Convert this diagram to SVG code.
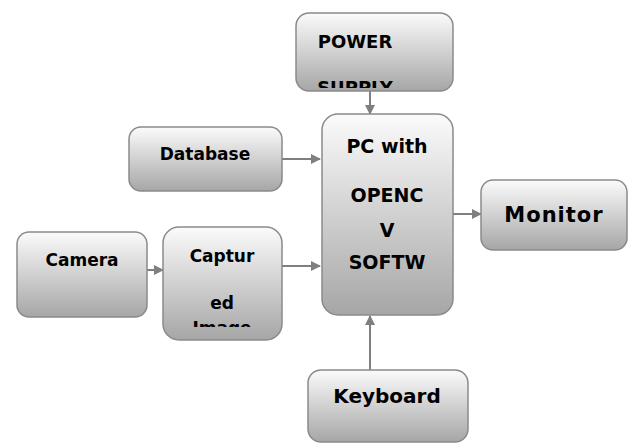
<svg xmlns="http://www.w3.org/2000/svg" width="629" height="445" viewBox="0 0 629 445">
<style>
.box{fill:url(#g);stroke:#8a8a8a;stroke-width:1.5}
.t{font-family:"DejaVu Sans",sans-serif;font-weight:bold;fill:#000;text-anchor:middle}
.c{stroke:#7f7f7f;stroke-width:2;fill:none;marker-end:url(#ah)}
</style>
<defs>
<linearGradient id="g" x1="0" y1="0" x2="0" y2="1">
<stop offset="0" stop-color="#fbfbfb"/>
<stop offset="1" stop-color="#a6a6a6"/>
</linearGradient>
<marker id="ah" viewBox="0 0 10 10" refX="9" refY="5" markerWidth="5" markerHeight="5" orient="auto" markerUnits="strokeWidth">
<path d="M0,0 L10,5 L0,10 z" fill="#7f7f7f"/>
</marker>
<clipPath id="cp1"><rect x="296" y="13" width="157" height="75"/></clipPath>
<clipPath id="cp2"><rect x="163" y="227" width="119" height="100"/></clipPath>
</defs>
<rect width="629" height="445" fill="#fff"/>
<g id="connectors">
<path class="c" d="M370,91 V114"/>
<path class="c" d="M282,159 H320"/>
<path class="c" d="M147,270 H163"/>
<path class="c" d="M282,266 H320"/>
<path class="c" d="M453,214 H481"/>
<path class="c" d="M370,370 V316"/>
</g>
<g id="power">
<rect class="box" x="296" y="13" width="157" height="78" rx="13"/>
<g clip-path="url(#cp1)">
<text class="t" x="355" y="48" font-size="18">POWER</text>
<text class="t" x="355" y="94" font-size="18">SUPPLY</text>
</g>
</g>
<g id="database">
<rect class="box" x="129" y="127" width="153" height="64" rx="12"/>
<text class="t" x="205" y="160" font-size="17">Database</text>
</g>
<g id="pc">
<rect class="box" x="322" y="114" width="131" height="201" rx="16"/>
<text class="t" x="387" y="153" font-size="19">PC with</text>
<text class="t" x="387" y="202" font-size="19">OPENC</text>
<text class="t" x="387" y="237" font-size="19">V</text>
<text class="t" x="387" y="269" font-size="19">SOFTW</text>
</g>
<g id="camera">
<rect class="box" x="17" y="232" width="130" height="85" rx="12"/>
<text class="t" x="82" y="266" font-size="17">Camera</text>
</g>
<g id="captured">
<rect class="box" x="163" y="227" width="119" height="113" rx="16"/>
<g clip-path="url(#cp2)">
<text class="t" x="222" y="262" font-size="17">Captur</text>
<text class="t" x="222" y="309" font-size="17">ed</text>
<text class="t" x="222" y="334" font-size="17">Image</text>
</g>
</g>
<g id="monitor">
<rect class="box" x="481" y="180" width="146" height="70" rx="12"/>
<text class="t" x="554" y="222" font-size="21" letter-spacing="1">Monitor</text>
</g>
<g id="keyboard">
<rect class="box" x="308" y="370" width="160" height="72" rx="13"/>
<text class="t" x="387" y="403" font-size="20">Keyboard</text>
</g>
</svg>
